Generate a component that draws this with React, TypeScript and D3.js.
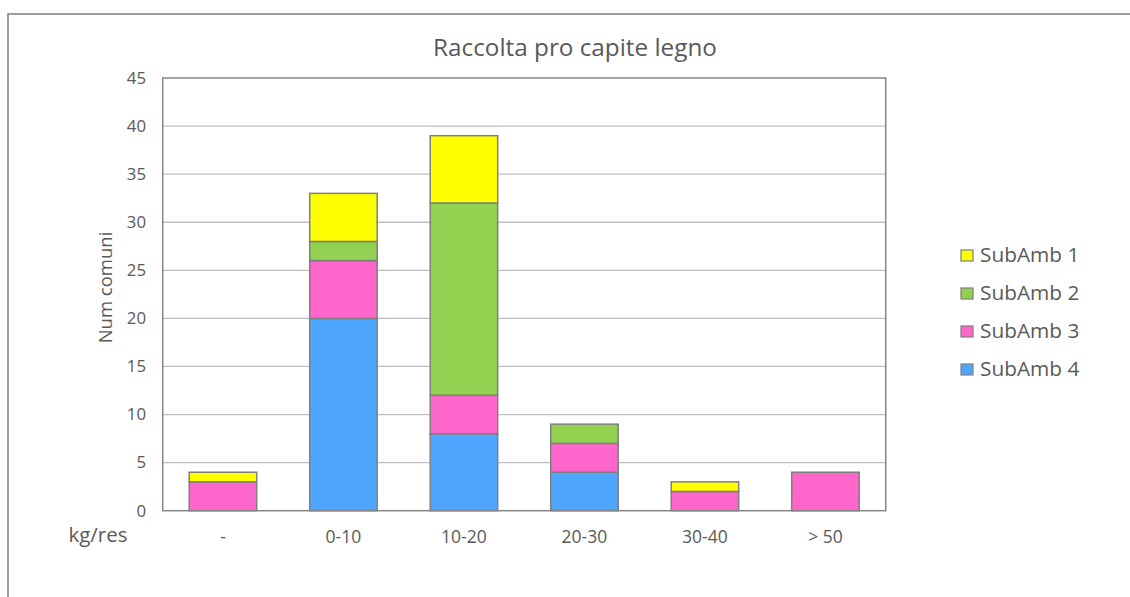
import React from "react";
import * as d3 from "d3";

const categories = ["-", "0-10", "10-20", "20-30", "30-40", "> 50"];
const seriesNames = ["SubAmb 4", "SubAmb 3", "SubAmb 2", "SubAmb 1"];
const subAmb4 = [0, 20, 8, 4, 0, 0];
const subAmb3 = [3, 6, 4, 3, 2, 4];
const subAmb2 = [0, 2, 20, 2, 0, 0];
const subAmb1 = [1, 5, 7, 0, 1, 0];
const colors = ["#4FA6FF", "#FF66CC", "#92D050", "#FFFF00"];
const yTicks = [0, 5, 10, 15, 20, 25, 30, 35, 40, 45];
const legendOrder = ["SubAmb 1", "SubAmb 2", "SubAmb 3", "SubAmb 4"];

const W = 1130, H = 597;
const plot = { left: 162.7, right: 885.7, top: 78, bottom: 510.7 };
const font = "'Open Sans', sans-serif";
const textColor = "#595959";

export default function App() {
  const rows = categories.map((c, i) => ({
    cat: c,
    "SubAmb 4": subAmb4[i],
    "SubAmb 3": subAmb3[i],
    "SubAmb 2": subAmb2[i],
    "SubAmb 1": subAmb1[i],
  }));
  const stack = d3.stack<any>().keys(seriesNames)(rows);
  const x = d3.scaleBand().domain(categories).range([plot.left, plot.right]).paddingInner(0.44).paddingOuter(0.22);
  const y = d3.scaleLinear().domain([0, 45]).range([plot.bottom, plot.top]);
  const colorOf = d3.scaleOrdinal<string, string>().domain(seriesNames).range(colors);

  return (
    <svg width={W} height={H} style={{ position: "absolute", left: 0, top: 0, background: "#fff" }}>
      <rect x={8} y={14} width={1140} height={600} fill="#fff" stroke="#7F7F7F" strokeWidth={1.5} />
      <text x={575} y={56} textAnchor="middle" fontFamily={font} fontSize={24.3} fill={textColor}>
        Raccolta pro capite legno
      </text>
      {yTicks.map((t) => (
        <g key={t}>
          {t > 0 && t < 45 && (
            <line x1={plot.left} x2={plot.right} y1={y(t)} y2={y(t)} stroke="#BFBFBF" strokeWidth={1.3} />
          )}
          <text x={146} y={y(t) + 5.8} textAnchor="end" fontFamily={font} fontSize={16.8} fill={textColor}>
            {t}
          </text>
        </g>
      ))}
      {stack.map((layer) => (
        <g key={layer.key}>
          {layer.map((d, i) =>
            d[1] - d[0] > 0 ? (
              <rect
                key={i}
                x={x(categories[i])!}
                width={x.bandwidth()}
                y={y(d[1])}
                height={y(d[0]) - y(d[1])}
                fill={colorOf(layer.key)}
                stroke="#7F7F7F"
                strokeWidth={1.5}
              />
            ) : null
          )}
        </g>
      ))}
      <rect
        x={plot.left}
        y={plot.top}
        width={plot.right - plot.left}
        height={plot.bottom - plot.top}
        fill="none"
        stroke="#868686"
        strokeWidth={1.5}
      />
      {categories.map((c) => (
        <text key={c} x={x(c)! + x.bandwidth() / 2} y={542.5} textAnchor="middle" fontFamily={font} fontSize={17.5} fill={textColor}>
          {c}
        </text>
      ))}
      <text x={98} y={542} textAnchor="middle" fontFamily={font} fontSize={20.5} fill={textColor}>
        kg/res
      </text>
      <text
        transform={`translate(112, 287.5) rotate(-90)`}
        textAnchor="middle"
        fontFamily={font}
        fontSize={18.5}
        fill={textColor}
      >
        Num comuni
      </text>
      {legendOrder.map((name, i) => (
        <g key={name} transform={`translate(961, ${250 + i * 38})`}>
          <rect x={0} y={0} width={12} height={11} fill={colorOf(name)} stroke="#7F7F7F" strokeWidth={1.2} />
          <text x={19} y={11.7} fontFamily={font} fontSize={20.8} fill={textColor}>
            {name}
          </text>
        </g>
      ))}
    </svg>
  );
}
